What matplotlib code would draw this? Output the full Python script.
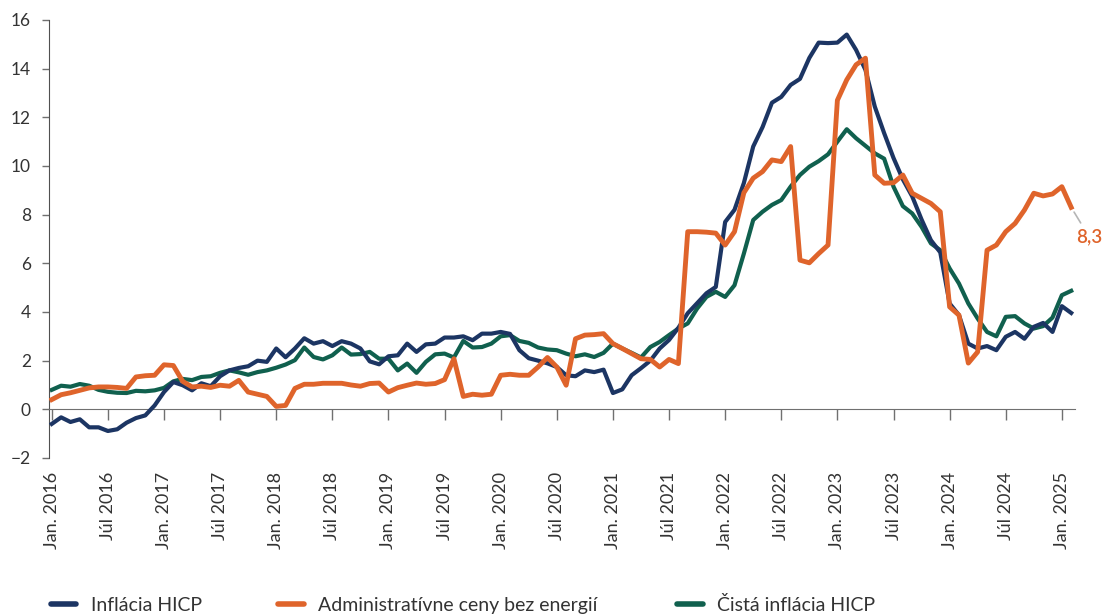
import matplotlib.pyplot as plt
from matplotlib.lines import Line2D

plt.rcParams['font.family'] = ['Lato', 'DejaVu Sans']

# monthly data, Jan 2016 .. Feb 2025
hicp = [-0.6, -0.33, -0.52, -0.41, -0.74, -0.74, -0.89, -0.82, -0.55, -0.36, -0.25, 0.16,
        0.71, 1.12, 0.99, 0.78, 1.07, 0.95, 1.36, 1.6, 1.7, 1.77, 2.0, 1.95,
        2.5, 2.14, 2.5, 2.92, 2.7, 2.8, 2.6, 2.8, 2.7, 2.5, 1.97, 1.85,
        2.18, 2.22, 2.7, 2.36, 2.67, 2.7, 2.95, 2.95, 3.0, 2.84, 3.11, 3.11,
        3.18, 3.1, 2.43, 2.1, 2.0, 1.89, 1.74, 1.4, 1.36, 1.6, 1.53, 1.63,
        0.67, 0.82, 1.4, 1.69, 2.0, 2.5, 2.85, 3.35, 3.95, 4.36, 4.77, 5.03,
        7.7, 8.2, 9.3, 10.8, 11.6, 12.6, 12.84, 13.33, 13.58, 14.44, 15.07, 15.05,
        15.07, 15.4, 14.77, 13.95, 12.44, 11.35, 10.33, 9.45, 8.75, 7.8, 6.95, 6.45,
        4.35, 3.87, 2.7, 2.5, 2.6, 2.43, 2.98, 3.18, 2.9, 3.39, 3.55, 3.18,
        4.24, 3.96]

admin = [0.4, 0.6, 0.68, 0.78, 0.88, 0.92, 0.92, 0.9, 0.86, 1.33, 1.38, 1.4,
         1.83, 1.8, 1.15, 0.92, 0.95, 0.9, 0.99, 0.95, 1.19, 0.71, 0.62, 0.53,
         0.12, 0.16, 0.86, 1.03, 1.03, 1.07, 1.07, 1.07, 1.0, 0.95, 1.06, 1.08,
         0.71, 0.89, 0.99, 1.08, 1.03, 1.06, 1.22, 2.08, 0.53, 0.62, 0.58, 0.62,
         1.4, 1.44, 1.4, 1.4, 1.74, 2.13, 1.74, 0.99, 2.9, 3.05, 3.07, 3.11,
         2.7, 2.5, 2.29, 2.08, 2.05, 1.74, 2.05, 1.88, 7.3, 7.3, 7.28, 7.24,
         6.75, 7.3, 8.9, 9.5, 9.77, 10.25, 10.18, 10.8, 6.13, 6.02, 6.4, 6.75,
         12.7, 13.54, 14.16, 14.43, 9.63, 9.29, 9.31, 9.63, 8.88, 8.67, 8.46, 8.12,
         4.21, 3.87, 1.9, 2.36, 6.54, 6.75, 7.3, 7.64, 8.19, 8.88, 8.77, 8.85,
         9.15, 8.3]

core = [0.8, 0.97, 0.93, 1.04, 0.97, 0.8, 0.72, 0.68, 0.67, 0.76, 0.74, 0.78,
        0.88, 1.15, 1.25, 1.2, 1.33, 1.36, 1.5, 1.6, 1.52, 1.42, 1.53, 1.6,
        1.71, 1.84, 2.02, 2.54, 2.15, 2.05, 2.22, 2.54, 2.25, 2.27, 2.36, 2.08,
        2.08, 1.6, 1.88, 1.5, 1.95, 2.26, 2.29, 2.13, 2.81, 2.54, 2.56, 2.7,
        3.0, 3.05, 2.81, 2.73, 2.54, 2.46, 2.43, 2.29, 2.18, 2.26, 2.15, 2.32,
        2.7, 2.5, 2.32, 2.13, 2.56, 2.77, 3.05, 3.32, 3.53, 4.14, 4.62, 4.83,
        4.62, 5.1, 6.4, 7.78, 8.12, 8.4, 8.6, 9.15, 9.63, 9.97, 10.2, 10.48,
        11.0, 11.51, 11.14, 10.83, 10.52, 10.3, 9.15, 8.35, 8.05, 7.5, 6.82, 6.54,
        5.79, 5.17, 4.35, 3.73, 3.18, 3.0, 3.8, 3.83, 3.53, 3.32, 3.42, 3.77,
        4.69, 4.87]

tick_labels = []
for year in range(2016, 2025):
    tick_labels += [f'Jan. {year}', f'Júl {year}']
tick_labels.append('Jan. 2025')
tick_pos = [6 * k for k in range(len(tick_labels))]

names = ['Inflácia HICP', 'Administratívne ceny bez energií', 'Čistá inflácia HICP']
colors = ['#1c3563', '#df642b', '#10604e']
last_label = '8,3'

x = list(range(len(hicp)))

fig = plt.figure(figsize=(11.05, 6.15), dpi=100)
ax = fig.add_axes([0.0443, 0.2553, 0.9285, 0.7122])

ax.plot(x, core, color=colors[2], lw=3.0, zorder=2)
ax.plot(x, hicp, color=colors[0], lw=3.0, zorder=3)
ax.plot(x, admin, color=colors[1], lw=3.5, zorder=4)

ax.set_xlim(-0.3, 109.4)
ax.set_ylim(-2, 16)

for s in ['top', 'right']:
    ax.spines[s].set_visible(False)
ax.spines['bottom'].set_position(('data', 0))
ax.spines['bottom'].set_color('#707070')
ax.spines['left'].set_color('#505050')

ax.set_xticks(tick_pos)
ax.tick_params(axis='x', direction='out', length=8, width=1, color='#707070', labelbottom=False)
ax.set_yticks(range(-2, 17, 2))
ax.tick_params(axis='y', direction='out', length=5, width=1, color='#707070',
               labelsize=12.5, labelcolor='#333333', pad=8)

sec = ax.secondary_xaxis(0)
sec.set_xticks(tick_pos, labels=tick_labels, rotation=90)
sec.tick_params(length=0, pad=10, labelsize=13, labelcolor='#333333')
sec.spines['bottom'].set_visible(False)

ax.annotate(last_label, xy=(x[-1], admin[-1]), xytext=(110.9, 7.1),
            color=colors[1], fontsize=13.5, fontweight='semibold', ha='center', va='center',
            annotation_clip=False,
            arrowprops=dict(arrowstyle='-', color='#b5b5b5', lw=1.2, shrinkA=2, shrinkB=4))

# one legend entry per position, as in the original layout
legend_x = [0.046, 0.252, 0.613]
for name, c, lx in zip(names, colors, legend_x):
    h = Line2D([0], [0], color=c, lw=4, solid_capstyle='round')
    fig.legend([h], [name], loc='center left', bbox_to_anchor=(lx, 0.016),
               frameon=False, fontsize=14, handlelength=1.3, handletextpad=0.75,
               borderpad=0, borderaxespad=0, labelcolor='#333333')

fig.savefig('out.png', dpi=100)
